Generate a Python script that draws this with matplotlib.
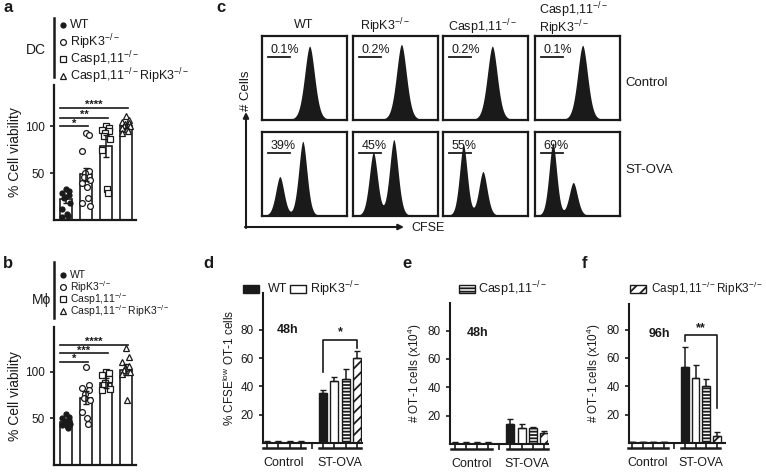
import numpy as np
import matplotlib
matplotlib.use('Agg')
import matplotlib.pyplot as plt
from matplotlib.patches import Rectangle
from matplotlib.transforms import ScaledTranslation

plt.rcParams['font.family'] = ['Liberation Sans', 'DejaVu Sans']
plt.rcParams['mathtext.fontset'] = 'custom'
plt.rcParams['mathtext.rm'] = 'Liberation Sans'
plt.rcParams['mathtext.it'] = 'Liberation Sans:italic'
plt.rcParams['mathtext.bf'] = 'Liberation Sans:bold'
plt.rcParams['mathtext.default'] = 'regular'
plt.rcParams['hatch.linewidth'] = 1.3

W, H = 766, 472
INK = '#1a1a1a'

# --------------- genotypes ---------------
genotypes = ['WT', r'RipK3$^{-/-}$', r'Casp1,11$^{-/-}$',
             r'Casp1,11$^{-/-}$RipK3$^{-/-}$']

# --------------- a: DC viability (%) ---------------
dc_wt = [33, 31, 29, 27, 25, 23, 18, 12, 6, 4, 3]
dc_ripk3 = [93, 91, 74, 52, 50, 46, 43, 40, 35, 24, 18, 15]
dc_casp = [100, 98, 96, 95, 93, 90, 86, 75, 33, 29]
dc_dko = [111, 107, 105, 103, 102, 100, 100, 98, 97, 95, 93]
dc_mean = [22, 49, 79, 100]
dc_sem = [4, 7, 12, 2]
dc_sig = [(0, 1, 100, '*'), (0, 2, 109, '**'), (0, 3, 120, '****')]

# --------------- b: macrophage viability (%) ---------------
mf_wt = [55, 52, 50, 48, 47, 45, 44, 43, 42, 40]
mf_ripk3 = [105, 86, 83, 80, 76, 72, 70, 57, 50, 44]
mf_casp = [100, 99, 96, 92, 88, 86, 82, 80]
mf_dko = [125, 116, 110, 106, 104, 102, 100, 98, 70]
mf_mean = [46, 72, 88, 102]
mf_sem = [2, 7, 5, 6]
mf_sig = [(0, 1, 111, '*'), (0, 2, 120, '***'), (0, 3, 129, '****')]

# --------------- c: CFSE histograms (center, height, width) ---------------
hist_pct_ctrl = ['0.1%', '0.2%', '0.2%', '0.1%']
hist_pct_ova = ['39%', '45%', '55%', '69%']
hist_ctrl = [[(0.56, 0.87, 0.085)], [(0.57, 0.89, 0.085)],
             [(0.58, 0.87, 0.085)], [(0.56, 0.88, 0.085)]]
hist_ova = [[(0.21, 0.46, 0.07), (0.48, 0.88, 0.07)],
            [(0.24, 0.75, 0.07), (0.48, 0.90, 0.072)],
            [(0.24, 0.84, 0.065), (0.47, 0.52, 0.07)],
            [(0.21, 0.86, 0.065), (0.45, 0.39, 0.07)]]
hist_rows = ['Control', 'ST-OVA']

# --------------- d-f: OT-1 proliferation ---------------
d_ctrl = [1.0, 1.0, 1.0, 1.0]
d_ctrl_err = [0.5, 0.5, 0.5, 0.5]
d_ova = [35.3, 43.5, 45.2, 60.0]
d_ova_err = [2.3, 3.1, 7.0, 4.7]

e_ctrl = [0.8, 0.8, 0.8, 0.8]
e_ctrl_err = [0.4, 0.4, 0.4, 0.4]
e_ova = [14.2, 11.5, 11.0, 8.0]
e_ova_err = [3.2, 2.4, 1.3, 1.2]

f_ctrl = [0.5, 0.5, 0.5, 0.5]
f_ctrl_err = [0.3, 0.3, 0.3, 0.3]
f_ova = [53.6, 45.9, 40.4, 4.7]
f_ova_err = [13.9, 9.4, 4.8, 2.8]
# ----------------------------------------

fig = plt.figure(figsize=(7.66, 4.72), dpi=100)


def px_axes(x0, y0, x1, y1, **kw):
    return fig.add_axes([x0 / W, 1 - y1 / H, (x1 - x0) / W, (y1 - y0) / H], **kw)


def clean(ax, lw=1.5):
    for s in ['top', 'right']:
        ax.spines[s].set_visible(False)
    for s in ['left', 'bottom']:
        ax.spines[s].set_linewidth(lw)
        ax.spines[s].set_color(INK)


# --------------- a / b ---------------
markers = [dict(marker='o', mfc=INK, mec=INK, ms=3.6),
           dict(marker='o', mfc='white', mec=INK, ms=4.2),
           dict(marker='s', mfc='white', mec=INK, ms=4.0),
           dict(marker='^', mfc='white', mec=INK, ms=4.4)]


def viability(ax, groups, mean, sem, sig, top):
    clean(ax, 1.6)
    for i, vals in enumerate(groups):
        ax.bar(i, mean[i], width=0.62, color='white', edgecolor=INK, lw=1.2, zorder=1)
        n = len(vals)
        off = 0.2 * np.sin(np.arange(n) * 2.4)
        ax.plot(i + off, vals, ls='none', mew=0.9, zorder=3, **markers[i])
        ax.errorbar(i, mean[i], yerr=sem[i], color=INK, capsize=2.5, lw=1.1, zorder=4)
    for i, j, y, s in sig:
        ax.plot([i - 0.3, j + 0.1], [y, y], color=INK, lw=1.2, clip_on=False)
        ax.text((i - 0.3 + j + 0.1) / 2, y - 2.5, s, ha='center', va='bottom',
                fontsize=8, fontweight='bold', color=INK)
    ax.set_xlim(-0.6, 3.5)
    ax.set_ylim(0, top)
    ax.set_xticks([])
    ax.set_yticks([50, 100])
    ax.tick_params(axis='y', length=3, width=1.2, labelsize=8.5, colors=INK)
    ax.set_ylabel('% Cell viability', fontsize=10, color=INK, labelpad=2)


ax_a = px_axes(54, 85, 136, 220)
viability(ax_a, [dc_wt, dc_ripk3, dc_casp, dc_dko], dc_mean, dc_sem, dc_sig, 144)
ax_b = px_axes(54, 327, 136, 465)
viability(ax_b, [mf_wt, mf_ripk3, mf_casp, mf_dko], mf_mean, mf_sem, mf_sig, 148)

# --------------- c ---------------
xs = np.linspace(0, 1, 400)


def profile(peaks):
    y = np.full_like(xs, 0.01)
    for c, h, w in peaks:
        y += h * np.exp(-(np.abs(xs - c) / w) ** 1.8)
    return y


col_left = [262, 353, 443, 535]
row_top = [36, 132]
for r, (peaks_row, pct_row) in enumerate([(hist_ctrl, hist_pct_ctrl), (hist_ova, hist_pct_ova)]):
    for c in range(4):
        ax = px_axes(col_left[c], row_top[r], col_left[c] + 85, row_top[r] + 84)
        ax.fill_between(xs, 0, profile(peaks_row[c]), color=INK, lw=0)
        ax.set_xlim(0, 1)
        ax.set_ylim(0, 1)
        ax.set_xticks([])
        ax.set_yticks([])
        for s in ax.spines.values():
            s.set_linewidth(1.6)
            s.set_color(INK)
        ax.plot([0.07, 0.33], [0.75, 0.75], color=INK, lw=1.3, transform=ax.transAxes)
        ax.text(0.1, 0.83, pct_row[c], fontsize=9, va='center', color=INK,
                transform=ax.transAxes)

# --------------- d / e / f ---------------
styles = [dict(color=INK, edgecolor=INK),
          dict(color='white', edgecolor=INK),
          dict(color='white', edgecolor=INK, hatch='-----'),
          dict(color='white', edgecolor=INK, hatch='///')]


def prolif(ax, ctrl, ctrl_err, ova, ova_err, xlim, top, ylabel, tag, tag_xy, bracket=None):
    clean(ax, 1.5)
    for i in range(4):
        for x, v, e in [(i, ctrl[i], ctrl_err[i]), (i + 5, ova[i], ova_err[i])]:
            ax.bar(x, v, width=0.72, lw=1.0, zorder=2, **styles[i])
            ax.errorbar(x, v, yerr=[[0], [e]], color=INK, capsize=2.2, lw=1.1, zorder=3)
    ax.set_xlim(*xlim)
    ax.set_ylim(0, top)
    ax.set_xticks(range(9))
    ax.set_yticks([20, 40, 60, 80])
    ax.tick_params(axis='x', length=4, width=1.2, labelbottom=False, colors=INK)
    ax.tick_params(axis='y', length=3, width=1.2, labelsize=8.5, colors=INK)
    ax.set_ylabel(ylabel, fontsize=8.5, color=INK, labelpad=3)
    ax.text(tag_xy[0], tag_xy[1], tag, fontsize=9, fontweight='bold', ha='center',
            va='center', color=INK)
    under = ax.get_xaxis_transform() + ScaledTranslation(0, -0.05, fig.dpi_scale_trans)
    lab = ax.get_xaxis_transform() + ScaledTranslation(0, -0.20, fig.dpi_scale_trans)
    for (a, b), name in zip([(-0.35, 3.35), (4.65, 8.35)], ['Control', 'ST-OVA']):
        ax.plot([a, b], [0, 0], color=INK, lw=1.8, transform=under, clip_on=False)
        ax.text((a + b) / 2, 0, name, ha='center', va='center', fontsize=9,
                color=INK, transform=lab)
    if bracket:
        i, j, y, yl, yr, s = bracket
        ax.plot([i, i, j, j], [yl, y, y, yr], color=INK, lw=1.2)
        ax.text((i + j) / 2, y + 1, s, ha='center', va='bottom', fontsize=9,
                fontweight='bold', color=INK)


ax_d = px_axes(263, 293, 362, 443)
prolif(ax_d, d_ctrl, d_ctrl_err, d_ova, d_ova_err, (-0.38, 8.46), 106,
       r'% CFSE$^{low}$ OT-1 cells', '48h', (1.85, 80), (5, 8, 73, 50, 67, '*'))
ax_e = px_axes(450, 303, 548, 444)
prolif(ax_e, e_ctrl, e_ctrl_err, e_ova, e_ova_err, (-0.45, 8.38), 99.5,
       r'# OT-1 cells (x10$^4$)', '48h', (2.07, 78))
ax_f = px_axes(629, 304, 725, 443)
prolif(ax_f, f_ctrl, f_ctrl_err, f_ova, f_ova_err, (-0.3, 8.78), 98,
       r'# OT-1 cells (x10$^4$)', '96h', (2.6, 77), (5, 8, 76, 72, 25, '**'))

# --------------- overlay: labels, legends, arrows ---------------
ov = fig.add_axes([0, 0, 1, 1], zorder=10)
ov.set_xlim(0, W)
ov.set_ylim(H, 0)
ov.axis('off')
ov.patch.set_alpha(0)

for t, (x, y) in zip('abcdef', [(3, 8), (3, 263), (216, 8), (203, 263), (402, 263), (582, 263)]):
    ov.text(x, y, t, fontsize=12, fontweight='bold', va='center', color=INK)

# a / b legends
for cell, rows, line_y, cell_xy, fs in [('DC', [25, 42, 59, 76], (18, 77), (36, 50), 9),
                                        ('M\u03d5', [275, 287, 299, 311], (262, 318), (42, 300), 7.5)]:
    ov.plot([54, 54], line_y, color=INK, lw=1.8)
    ov.text(cell_xy[0], cell_xy[1], cell, fontsize=10, ha='center', va='center', color=INK)
    for k, y in enumerate(rows):
        ov.plot(63, y, ls='none', mew=0.9, **markers[k])
        ov.text(70, y, genotypes[k], fontsize=fs, va='center', color=INK)

# c headers / row labels / axes arrows
ov.text(304, 25, 'WT', fontsize=9, ha='center', va='center', color=INK)
ov.text(360, 26, genotypes[1], fontsize=9, va='center', color=INK)
ov.text(448, 27, genotypes[2], fontsize=9, va='center', color=INK)
ov.text(539, 10, genotypes[2], fontsize=9, va='center', color=INK)
ov.text(539, 28, genotypes[1], fontsize=9, va='center', color=INK)
ov.text(625, 83, hist_rows[0], fontsize=9.5, va='center', color=INK)
ov.text(625, 170, hist_rows[1], fontsize=9.5, va='center', color=INK)
ov.annotate('', xy=(246, 112), xytext=(246, 228),
            arrowprops=dict(arrowstyle='-|>', color=INK, lw=1.5, mutation_scale=8,
                            shrinkA=0, shrinkB=0))
ov.annotate('', xy=(404, 227), xytext=(245, 227),
            arrowprops=dict(arrowstyle='-|>', color=INK, lw=1.5, mutation_scale=8,
                            shrinkA=0, shrinkB=0))
ov.text(246, 91, '# Cells', rotation=90, fontsize=9.5, ha='center', va='center', color=INK)
ov.text(411, 228, 'CFSE', fontsize=9, va='center', color=INK)

# d / e / f legends
for (bx, tx, k, fs) in [(243, 268, 0, 9), (290, 310, 1, 9), (459, 478, 2, 9), (630, 651, 3, 8.5)]:
    st = dict(styles[k])
    fc = st.pop('color')
    ov.add_patch(Rectangle((bx, 285), 16, 8, facecolor=fc, lw=1.0, **st))
    ov.text(tx, 289, genotypes[k], fontsize=fs, va='center', color=INK)

fig.savefig('out.png', dpi=100)
